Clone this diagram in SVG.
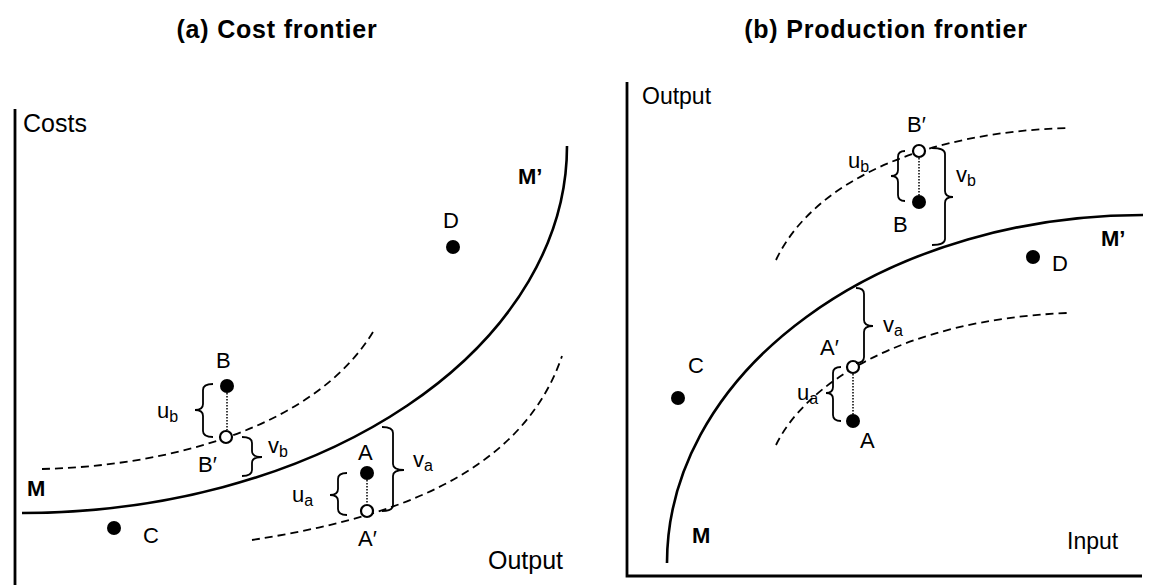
<svg xmlns="http://www.w3.org/2000/svg" width="1171" height="585" viewBox="0 0 1171 585">
<style>
text{font-family:"Liberation Sans",Arial,sans-serif;fill:#000}
.title{font-size:25px;font-weight:bold;letter-spacing:0.8px}
.ax{font-size:25px}
.axr{font-size:23px}
.lbl{font-size:22px}
.bold{font-size:22px;font-weight:bold}
.sub{font-size:16px}
.axis{fill:none;stroke:#000;stroke-width:2.8}
.front{fill:none;stroke:#000;stroke-width:2.6}
.dash{fill:none;stroke:#000;stroke-width:1.8;stroke-dasharray:8 5}
.dot{fill:#000}
.open{fill:#fff;stroke:#000;stroke-width:2.2}
.dotted{stroke:#000;stroke-width:1.5;stroke-dasharray:1.5 1.5}
.brace{fill:none;stroke:#000;stroke-width:1.8}
</style>

<g id="titles">
<text class="title" x="277" y="38" text-anchor="middle">(a) Cost frontier</text>
<text class="title" x="886" y="38" text-anchor="middle">(b) Production frontier</text>
</g>

<!-- Panel (a) -->
<g id="panel-a-axes">
<line class="axis" x1="15" y1="109" x2="15" y2="585"/>
<text class="ax" x="23" y="132">Costs</text>
<text class="ax" x="488" y="569">Output</text>
</g>
<g id="panel-a-curves">
<path id="a-frontier" class="front" d="M22,513 A545,367 0 0 0 567,146"/>
<path class="dash" d="M42,469 C170,466 315,427 373,332"/>
<path class="dash" d="M252,540 C380,520 520,480 562,356"/>
<text class="bold" x="27" y="496">M</text>
<text class="bold" x="518" y="184">M’</text>
</g>
<g id="a-node-B">
<circle class="dot" cx="227" cy="386" r="7"/>
<text class="lbl" x="216" y="368">B</text>
</g>
<g id="a-node-Bp">
<circle class="open" cx="226" cy="437" r="6"/>
<text class="lbl" x="198" y="472">B′</text>
</g>
<g id="a-node-A">
<circle class="dot" cx="367" cy="473" r="7"/>
<text class="lbl" x="358" y="460">A</text>
</g>
<g id="a-node-Ap">
<circle class="open" cx="367" cy="511" r="6"/>
<text class="lbl" x="358" y="546">A′</text>
</g>
<g id="a-node-C">
<circle class="dot" cx="114" cy="528" r="7"/>
<text class="lbl" x="143" y="543">C</text>
</g>
<g id="a-node-D">
<circle class="dot" cx="453" cy="247" r="7"/>
<text class="lbl" x="443" y="228">D</text>
</g>
<g id="a-connectors">
<line class="dotted" x1="227" y1="393" x2="227" y2="430"/>
<line class="dotted" x1="367" y1="480" x2="367" y2="504"/>
<path class="brace" d="M213,384 Q203,384 203,390 L203,404 Q203,410 195,410 Q203,410 203,416 L203,431 Q203,437 213,437"/>
<path class="brace" d="M242,437 Q252,437 252,443 L252,451 Q252,457 262,457 Q252,457 252,463 L252,470 Q252,476 242,476"/>
<path class="brace" d="M347,473 Q338,473 338,479 L338,489 Q338,495 330,495 Q338,495 338,501 L338,509 Q338,515 347,515"/>
<path class="brace" d="M382,427 Q393,427 393,433 L393,464 Q393,470 404,470 Q393,470 393,476 L393,505 Q393,511 382,511"/>
<text class="lbl" x="157" y="418">u<tspan class="sub" dy="4">b</tspan></text>
<text class="lbl" x="268" y="453">v<tspan class="sub" dy="4">b</tspan></text>
<text class="lbl" x="292" y="502">u<tspan class="sub" dy="4">a</tspan></text>
<text class="lbl" x="413" y="467">v<tspan class="sub" dy="4">a</tspan></text>
</g>

<!-- Panel (b) -->
<g id="panel-b-axes">
<path class="axis" d="M627,82 L627,576 L1142,576"/>
<text class="axr" x="642" y="104">Output</text>
<text class="axr" x="1067" y="549">Input</text>
</g>
<g id="panel-b-curves">
<path id="b-frontier" class="front" d="M667,563 A476,348 0 0 1 1143,215"/>
<path class="dash" d="M776,260 C815,178 930,132 1067,128"/>
<path class="dash" d="M776,445 C805,385 900,320 1067,313"/>
<text class="bold" x="692" y="543">M</text>
<text class="bold" x="1101" y="246">M’</text>
</g>
<g id="b-node-Bp">
<circle class="open" cx="919" cy="151" r="6"/>
<text class="lbl" x="907" y="132">B′</text>
</g>
<g id="b-node-B">
<circle class="dot" cx="919" cy="202" r="7"/>
<text class="lbl" x="893" y="232">B</text>
</g>
<g id="b-node-D">
<circle class="dot" cx="1033" cy="257" r="7"/>
<text class="lbl" x="1052" y="271">D</text>
</g>
<g id="b-node-Ap">
<circle class="open" cx="853" cy="367" r="6"/>
<text class="lbl" x="820" y="355">A′</text>
</g>
<g id="b-node-A">
<circle class="dot" cx="853" cy="421" r="7"/>
<text class="lbl" x="860" y="448">A</text>
</g>
<g id="b-node-C">
<circle class="dot" cx="678" cy="398" r="7"/>
<text class="lbl" x="688" y="373">C</text>
</g>
<g id="b-connectors">
<line class="dotted" x1="919" y1="158" x2="919" y2="195"/>
<line class="dotted" x1="853" y1="374" x2="853" y2="414"/>
<path class="brace" d="M905,151 Q898,151 898,157 L898,170 Q898,176 891,176 Q898,176 898,182 L898,195 Q898,201 905,201"/>
<path class="brace" d="M932,148 Q945,148 945,154 L945,191 Q945,197 953,197 Q945,197 945,203 L945,239 Q945,245 932,245"/>
<path class="brace" d="M856,288 Q864,288 864,294 L864,320 Q864,326 873,326 Q864,326 864,332 L864,357 Q864,363 856,363"/>
<path class="brace" d="M841,367 Q833,367 833,373 L833,387 Q833,393 826,393 Q833,393 833,399 L833,415 Q833,421 841,421"/>
<text class="lbl" x="848" y="168">u<tspan class="sub" dy="4">b</tspan></text>
<text class="lbl" x="956" y="182">v<tspan class="sub" dy="4">b</tspan></text>
<text class="lbl" x="883" y="332">v<tspan class="sub" dy="4">a</tspan></text>
<text class="lbl" x="797" y="400">u<tspan class="sub" dy="4">a</tspan></text>
</g>
</svg>
